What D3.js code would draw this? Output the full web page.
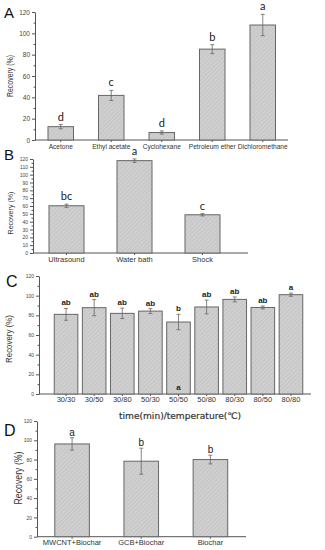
<!DOCTYPE html>
<html>
<head>
<meta charset="utf-8">
<script src="https://cdn.jsdelivr.net/npm/d3@7"></script>
<style>
  body { margin: 0; background: #fff; }
  svg { display: block; }
</style>
</head>
<body>
<div class="box"></div>
<script>
// ---- données ----
const solventNames = ['Acetone', 'Ethyl acetate', 'Cyclohexane', 'Petroleum ether', 'Dichloromethane'];
const solventRecovery = [12.5, 41.8, 7, 85.2, 107.8];
const solventSD = [2, 4.7, 1.5, 4.2, 10];
const solventLetters = ['d', 'c', 'd', 'b', 'a'];

const methodNames = ['Ultrasound', 'Water bath', 'Shock'];
const methodRecovery = [60.3, 117.9, 48.8];
const methodSD = [2, 2.2, 1.5];
const methodLetters = ['bc', 'a', 'c'];

const conditionNames = ['30/30', '30/50', '30/80', '50/30', '50/50', '50/80', '80/30', '80/50', '80/80'];
const conditionRecovery = [81, 87.8, 82, 84.3, 73.2, 88.5, 96.2, 88, 101];
const conditionSD = [6, 8.2, 5.3, 2.5, 7.8, 7, 2.5, 1.5, 1.6];
const conditionLetters = ['ab', 'ab', 'ab', 'ab', 'b', 'ab', 'ab', 'ab', 'a'];

const sorbentNames = ['MWCNT+Biochar', 'GCB+Biochar', 'Biochar'];
const sorbentRecovery = [96.2, 78.3, 80];
const sorbentSD = [6.5, 13.5, 4.5];
const sorbentLetters = ['a', 'b', 'b'];

const W = 325, H = 550;
const svg = d3.select('.box').append('svg')
              .attr('width', W)
              .attr('height', H);

// motif hachuré des barres
const pat = svg.append('defs').append('pattern')
               .attr('id', 'hatch')
               .attr('patternUnits', 'userSpaceOnUse')
               .attr('width', 3).attr('height', 3)
               .attr('patternTransform', 'rotate(45)');
pat.append('rect').attr('width', 3).attr('height', 3).attr('fill', '#cfcfcf');
pat.append('line').attr('x1', 0).attr('y1', 0).attr('x2', 0).attr('y2', 3)
   .attr('stroke', '#bcbcbc').attr('stroke-width', 1);

const grey = '#555';
const arial = 'Liberation Sans, Arial, sans-serif';

// ---- fonction de dessin d'un panneau ----
const drawPanel = (p) => {

    const g = svg.append('g');

    const x = d3.scaleBand()
                .domain(p.names)
                .range([p.x0, p.x1])
                .paddingInner(p.pad)
                .paddingOuter(p.pad / 2);

    const y = d3.scaleLinear()
                .domain([0, p.yMax])
                .range([p.yBottom, p.yTop]);

    // axe y
    const yAxis = d3.axisLeft(y)
                    .tickValues(d3.range(0, p.yMax + 1, p.yStep))
                    .tickSize(3)
                    .tickSizeOuter(0);
    const ya = g.append('g')
                .attr('transform', `translate(${p.axisX},0)`)
                .call(yAxis);
    ya.select('.domain').attr('stroke', grey);
    ya.selectAll('.tick line').attr('stroke', grey);
    ya.selectAll('.tick text')
      .attr('font-family', arial)
      .attr('font-size', p.tickFont)
      .attr('fill', '#444')
      .attr('x', -5);

    // petites graduations
    const minor = d3.axisLeft(y)
                    .tickValues(d3.range(p.yStep / 2, p.yMax, p.yStep))
                    .tickSize(1.5)
                    .tickFormat('');
    const ym = g.append('g')
                .attr('transform', `translate(${p.axisX},0)`)
                .call(minor);
    ym.select('.domain').remove();
    ym.selectAll('line').attr('stroke', grey);

    // axe x
    const xAxis = d3.axisBottom(x).tickSize(2).tickSizeOuter(0);
    const xa = g.append('g')
                .attr('transform', `translate(0,${p.yBottom})`)
                .call(xAxis);
    xa.select('.domain').remove();
    xa.selectAll('.tick line').attr('stroke', grey);
    xa.selectAll('.tick text')
      .attr('font-family', arial)
      .attr('font-size', p.xFont)
      .attr('fill', '#333')
      .attr('y', p.xLabelDy)
      .attr('dy', '0');
    g.append('line')
     .attr('x1', p.axisX).attr('x2', p.axisEnd)
     .attr('y1', p.yBottom).attr('y2', p.yBottom)
     .attr('stroke', grey);

    // barres
    g.selectAll('rect.bar')
     .data(p.names)
     .enter()
     .append('rect')
     .attr('class', 'bar')
     .attr('x', d => x(d))
     .attr('width', x.bandwidth())
     .attr('y', (d, i) => y(p.values[i]))
     .attr('height', (d, i) => y(0) - y(p.values[i]))
     .attr('fill', 'url(#hatch)')
     .attr('stroke', '#666')
     .attr('stroke-width', 1);

    // barres d'erreur
    const cx = d => x(d) + x.bandwidth() / 2;
    const eb = g.selectAll('g.err')
                .data(p.names)
                .enter()
                .append('g')
                .attr('class', 'err')
                .attr('stroke', '#666')
                .attr('stroke-width', 0.8);
    eb.append('line')
      .attr('x1', cx).attr('x2', cx)
      .attr('y1', (d, i) => y(p.values[i] - p.sd[i]))
      .attr('y2', (d, i) => y(p.values[i] + p.sd[i]));
    [-1, 1].forEach(s => {
        eb.append('line')
          .attr('x1', d => cx(d) - 2).attr('x2', d => cx(d) + 2)
          .attr('y1', (d, i) => y(p.values[i] + s * p.sd[i]))
          .attr('y2', (d, i) => y(p.values[i] + s * p.sd[i]));
    });

    // lettres de signification
    g.selectAll('text.sig')
     .data(p.names)
     .enter()
     .append('text')
     .attr('class', 'sig')
     .attr('x', cx)
     .attr('y', (d, i) => y(p.values[i] + p.sd[i]) - p.letterGap)
     .attr('text-anchor', 'middle')
     .attr('font-family', p.letterFamily)
     .attr('font-weight', p.letterWeight)
     .attr('font-size', p.letterFont)
     .attr('fill', '#1a1a1a')
     .text((d, i) => p.letters[i]);

    // titre axe y
    g.append('text')
     .attr('transform', `translate(${p.titleX},${p.titleY}) rotate(-90)`)
     .attr('text-anchor', 'middle')
     .attr('font-family', arial)
     .attr('font-size', p.titleFont)
     .attr('textLength', p.titleLen)
     .attr('lengthAdjust', 'spacingAndGlyphs')
     .attr('fill', '#333')
     .text('Recovery (%)');

    // lettre du panneau
    g.append('text')
     .attr('x', p.tagX).attr('y', p.tagY)
     .attr('font-family', arial)
     .attr('font-size', p.tagFont)
     .attr('fill', '#111')
     .text(p.tag);

    return {g, x, y};
};

// ---- A : solvants ----
drawPanel({
    names: solventNames, values: solventRecovery, sd: solventSD, letters: solventLetters,
    x0: 35.5, x1: 288, pad: 0.495, axisX: 35, axisEnd: 288,
    yMax: 120, yStep: 20, yTop: 12, yBottom: 140,
    tickFont: 6.5, xFont: 6.6, xLabelDy: 9,
    letterFamily: 'Lato, sans-serif', letterWeight: 'normal', letterFont: 11, letterGap: 4,
    titleX: 13, titleY: 76, titleFont: 8.5, titleLen: 42,
    tag: 'A', tagX: 4, tagY: 18, tagFont: 15
});

// ---- B : méthodes ----
drawPanel({
    names: methodNames, values: methodRecovery, sd: methodSD, letters: methodLetters,
    x0: 32.5, x1: 236.5, pad: 0.485, axisX: 33, axisEnd: 248,
    yMax: 120, yStep: 10, yTop: 159, yBottom: 253,
    tickFont: 5, xFont: 7.5, xLabelDy: 9,
    letterFamily: 'Lato, sans-serif', letterWeight: 'normal', letterFont: 11, letterGap: 4,
    titleX: 13, titleY: 213, titleFont: 7.5, titleLen: 43,
    tag: 'B', tagX: 4, tagY: 160, tagFont: 15
});

// ---- C : temps / température ----
const pC = drawPanel({
    names: conditionNames, values: conditionRecovery, sd: conditionSD, letters: conditionLetters,
    x0: 52, x1: 305, pad: 0.16, axisX: 39, axisEnd: 311,
    yMax: 120, yStep: 20, yTop: 276, yBottom: 394,
    tickFont: 5, xFont: 7.5, xLabelDy: 8,
    letterFamily: arial, letterWeight: 'bold', letterFont: 8, letterGap: 3,
    titleX: 12, titleY: 339, titleFont: 9, titleLen: 48,
    tag: 'C', tagX: 6, tagY: 287, tagFont: 16
});

// lettre isolée dans la barre 50/50
pC.g.append('text')
    .attr('x', pC.x('50/50') + pC.x.bandwidth() / 2)
    .attr('y', 390)
    .attr('text-anchor', 'middle')
    .attr('font-family', arial)
    .attr('font-weight', 'bold')
    .attr('font-size', 8)
    .attr('fill', '#222')
    .text('a');

svg.append('text')
   .attr('x', 180).attr('y', 419)
   .attr('text-anchor', 'middle')
   .attr('font-family', 'DejaVu Sans, Noto Sans CJK SC, sans-serif')
   .attr('font-size', 9)
   .attr('textLength', 122)
   .attr('lengthAdjust', 'spacingAndGlyphs')
   .attr('fill', '#333')
   .attr('stroke', '#333')
   .attr('stroke-width', 0.2)
   .text('time(min)/temperature(℃)');

// ---- D : adsorbants ----
drawPanel({
    names: sorbentNames, values: sorbentRecovery, sd: sorbentSD, letters: sorbentLetters,
    x0: 37.5, x1: 245, pad: 0.5, axisX: 37, axisEnd: 246,
    yMax: 120, yStep: 20, yTop: 421, yBottom: 536.7,
    tickFont: 5, xFont: 7.5, xLabelDy: 8,
    letterFamily: arial, letterWeight: 'normal', letterFont: 10, letterGap: 2,
    titleX: 22, titleY: 478, titleFont: 11, titleLen: 53,
    tag: 'D', tagX: 4, tagY: 436, tagFont: 16
});
</script>
</body>
</html>
